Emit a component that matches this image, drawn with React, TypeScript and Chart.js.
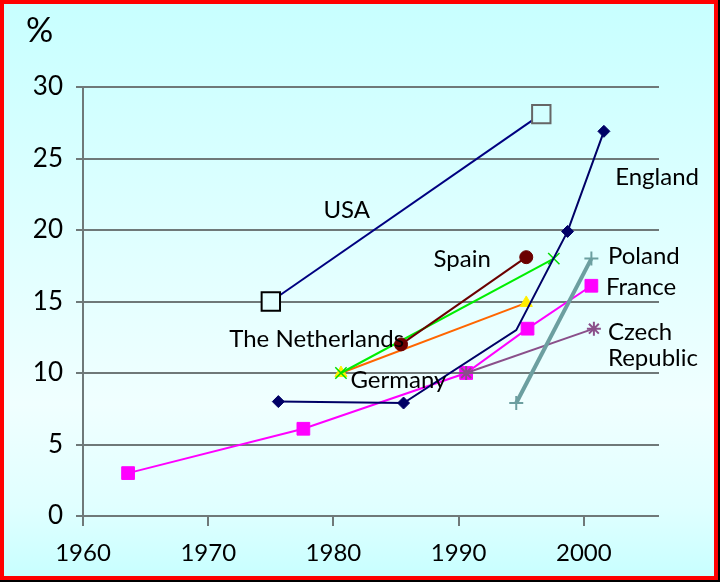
import React, { useEffect, useRef } from "react";
import { Chart, registerables } from "chart.js";

Chart.register(...registerables);

// ---- data ----
const usaYears = [1975.0, 1996.6];
const usaValues = [15.0, 28.1];

const englandYears = [1975.6, 1985.6, 1994.6, 1998.7, 2001.6];
const englandValues = [8.0, 7.9, 13.0, 19.9, 26.9];

const spainYears = [1985.4, 1995.4];
const spainValues = [12.0, 18.1];

const netherlandsYears = [1980.6, 1997.6];
const netherlandsValues = [10.0, 18.0];

const germanyYears = [1980.6, 1995.4];
const germanyValues = [10.0, 14.9];

const franceYears = [1963.6, 1977.6, 1990.6, 1995.5, 2000.6];
const franceValues = [3.0, 6.1, 10.0, 13.1, 16.1];

const czechYears = [1990.6, 2000.8];
const czechValues = [10.0, 13.1];

const polandYears = [1994.6, 2000.6];
const polandValues = [7.9, 18.0];

const xTickValues = [1960, 1970, 1980, 1990, 2000];
const yTickValues = [0, 5, 10, 15, 20, 25, 30];

const seriesLabels = ["USA", "England", "Spain", "The Netherlands", "Germany", "Poland", "France", "Czech", "Republic"];
const unitLabel = "%";

// annotation anchors (data coordinates: left edge year, baseline value)
const labelAnchorYears = [1979.2, 2002.5, 1988.0, 1971.68, 1981.36, 2001.92, 2001.76, 2001.92, 2001.92];
const labelAnchorValues = [20.85, 23.15, 17.44, 11.84, 8.97, 17.63, 15.47, 12.33, 10.51];

const FONT = "Lato, 'Open Sans', sans-serif";
const GRID = "#6f7979";

const pts = (xs: number[], ys: number[]) => xs.map((x, i) => ({ x, y: ys[i] }));

const labelsPlugin = {
  id: "countryLabels",
  afterDatasetsDraw(chart: any) {
    const { ctx, scales, chartArea } = chart;
    ctx.save();
    ctx.fillStyle = "#000";
    ctx.textAlign = "left";
    ctx.textBaseline = "alphabetic";
    ctx.font = `24px ${FONT}`;
    seriesLabels.forEach((t, i) => {
      const x = scales.x.getPixelForValue(labelAnchorYears[i]);
      const y = scales.y.getPixelForValue(labelAnchorValues[i]);
      ctx.fillText(t, x, y);
    });
    ctx.font = `34px ${FONT}`;
    ctx.fillText(unitLabel, chartArea.left - 57, chartArea.top - 45);
    ctx.restore();
  },
};

export default function App() {
  const ref = useRef<HTMLCanvasElement | null>(null);

  useEffect(() => {
    if (!ref.current) return;
    const common = { tension: 0, fill: false };
    const chart = new Chart(ref.current, {
      type: "line",
      data: {
        datasets: [
          {
            ...common,
            label: "Poland",
            data: pts(polandYears, polandValues),
            borderColor: "#6c9fa0",
            borderWidth: 4,
            pointStyle: "cross",
            pointRadius: 7,
            pointBorderColor: "#6c9fa0",
            pointBorderWidth: 2,
          },
          {
            ...common,
            label: "England",
            data: pts(englandYears, englandValues),
            borderColor: "#000066",
            borderWidth: 2,
            pointStyle: "rectRot",
            pointRadius: [6, 6, 0, 6, 6],
            pointBackgroundColor: "#000066",
            pointBorderColor: "#000066",
            pointBorderWidth: 1,
          },
          {
            ...common,
            label: "USA",
            data: pts(usaYears, usaValues),
            borderColor: "#000080",
            borderWidth: 2,
            pointStyle: "rect",
            pointRadius: 13,
            pointBackgroundColor: ["#e2ffff", "#d2ffff"],
            pointBorderColor: ["#000000", "#666666"],
            pointBorderWidth: 2,
          },
          {
            ...common,
            label: "Spain",
            data: pts(spainYears, spainValues),
            borderColor: "#6b0000",
            borderWidth: 2,
            pointStyle: "circle",
            pointRadius: 6.5,
            pointBackgroundColor: "#6b0000",
            pointBorderColor: "#6b0000",
            pointBorderWidth: 1,
          },
          {
            ...common,
            label: "The Netherlands",
            data: pts(netherlandsYears, netherlandsValues),
            borderColor: "#00ee00",
            borderWidth: 2,
            pointStyle: "crossRot",
            pointRadius: 8,
            pointBorderColor: "#00dd00",
            pointBorderWidth: 1.5,
          },
          {
            ...common,
            label: "Germany",
            data: pts(germanyYears, germanyValues),
            borderColor: "#ff6600",
            borderWidth: 2,
            pointStyle: "triangle",
            pointRadius: 7,
            pointBackgroundColor: "#ffee00",
            pointBorderColor: "#ffee00",
            pointBorderWidth: 1,
          },
          {
            ...common,
            label: "Czech Republic",
            data: pts(czechYears, czechValues),
            borderColor: "#8a4f8a",
            borderWidth: 2,
            pointStyle: "star",
            pointRadius: 7,
            pointBorderColor: "#8a4f8a",
            pointBorderWidth: 2,
          },
          {
            ...common,
            label: "France",
            data: pts(franceYears, franceValues),
            borderColor: "#ff00ff",
            borderWidth: 2,
            pointStyle: "rect",
            pointRadius: 9,
            pointBackgroundColor: "#ff00ff",
            pointBorderColor: "#ff00ff",
            pointBorderWidth: 1,
          },
        ],
      },
      options: {
        responsive: false,
        animation: false,
        devicePixelRatio: 1,
        layout: { padding: { top: 87, right: 61, left: 0, bottom: 0 } },
        plugins: {
          legend: { display: false },
          tooltip: { enabled: false },
        },
        scales: {
          x: {
            type: "linear",
            min: 1960,
            max: 2006,
            afterBuildTicks: (s: any) => {
              s.ticks = xTickValues.map((v) => ({ value: v }));
            },
            afterFit: (s: any) => {
              s.height = 66;
            },
            grid: {
              drawOnChartArea: false,
              drawTicks: true,
              tickLength: 10,
              color: GRID,
              lineWidth: 2,
            },
            border: { display: false },
            ticks: {
              color: "#000",
              font: { family: FONT, size: 24 },
              padding: 13,
              maxRotation: 0,
              autoSkip: false,
              callback: (v: any) => String(v),
            },
          },
          y: {
            type: "linear",
            min: 0,
            max: 30,
            afterBuildTicks: (s: any) => {
              s.ticks = yTickValues.map((v) => ({ value: v }));
            },
            afterFit: (s: any) => {
              s.width = 83;
            },
            grid: {
              color: GRID,
              lineWidth: 2,
              tickLength: 7,
            },
            border: { display: true, color: GRID, width: 2 },
            ticks: {
              color: "#000",
              font: { family: FONT, size: 26 },
              padding: 13,
              autoSkip: false,
              callback: (v: any) => String(v),
            },
          },
        },
      },
      plugins: [labelsPlugin],
    } as any);
    return () => chart.destroy();
  }, []);

  return (
    <div style={{ position: "fixed", left: 0, top: 0, width: 720, height: 582, background: "#000" }}>
      <div
        style={{
          position: "absolute",
          left: 0,
          top: 0,
          width: 718,
          height: 580,
          boxSizing: "border-box",
          border: "4px solid #ff0000",
          background:
            "linear-gradient(to bottom, #c8ffff 0%, #dcffff 35%, #f0ffff 70%, #e0ffff 88%, #c8ffff 100%)",
        }}
      />
      <canvas ref={ref} width={720} height={582} style={{ position: "absolute", left: 0, top: 0 }} />
    </div>
  );
}
